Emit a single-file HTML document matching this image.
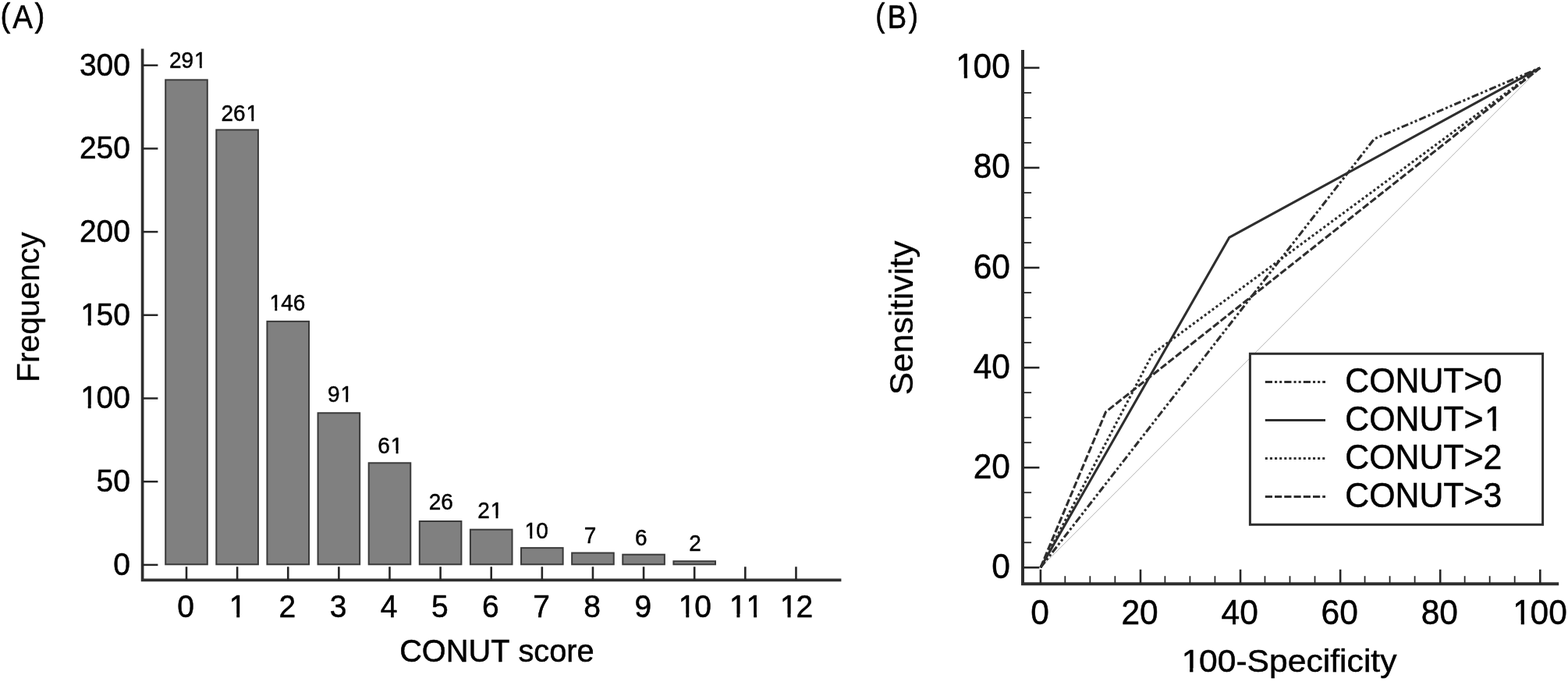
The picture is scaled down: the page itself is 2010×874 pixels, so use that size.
<!DOCTYPE html>
<html lang="en">
<head>
<meta charset="utf-8">
<title>CONUT score distribution and ROC curves</title>
<style>
html,body{margin:0;padding:0;background:#fff;}
body{width:2010px;height:874px;overflow:hidden;}
svg{display:block;}
text{font-family:"Liberation Sans", Arial, sans-serif;fill:#000;stroke:#000;stroke-linejoin:round;font-kerning:none;}
.m{fill:#fff;stroke:none;}
</style>
</head>
<body>
<svg width="2010" height="874" viewBox="0 0 2010 874">
<rect x="0" y="0" width="2010" height="874" fill="#ffffff"/>

<g id="panelA">
<text transform="scale(0.9614,1.0756)" font-size="40" stroke-width="0.6" x="0.49 16.88 46.21" y="32.01 33.28 32.01">(A)</text>
<g fill="#808080" stroke="#3a3a3a" stroke-width="2">
<rect x="212.2" y="102.36" width="53.6" height="620.94"/>
<rect x="277.32" y="166.4" width="53.6" height="556.9"/>
<rect x="342.44" y="411.86" width="53.6" height="311.44"/>
<rect x="407.56" y="529.26" width="53.6" height="194.04"/>
<rect x="472.68" y="593.3" width="53.6" height="130"/>
<rect x="537.8" y="668" width="53.6" height="55.3"/>
<rect x="602.92" y="678.68" width="53.6" height="44.62"/>
<rect x="668.04" y="702.15" width="53.6" height="21.14"/>
<rect x="733.16" y="708.56" width="53.6" height="14.74"/>
<rect x="798.28" y="710.69" width="53.6" height="12.61"/>
<rect x="863.4" y="719.23" width="53.6" height="4.07"/>
</g>
<text transform="translate(217.01,86.89) scale(1.0000,1.0350)" font-size="28" stroke-width="0.45" x="0 15.57 32.05">291</text>
<rect class="m" x="249.67" y="83.19" width="6.21" height="5.33"/><rect class="m" x="258.8" y="83.19" width="5.99" height="5.33"/>
<text transform="translate(283.51,155.19) scale(1.0000,1.0350)" font-size="28" stroke-width="0.45" x="0 15.57 32.05">261</text>
<rect class="m" x="316.17" y="151.49" width="6.21" height="5.33"/><rect class="m" x="325.3" y="151.49" width="5.99" height="5.33"/>
<text transform="translate(344.61,397.69) scale(1.0000,1.0350)" font-size="28" stroke-width="0.45" x="0.9 15.57 31.14">146</text>
<rect class="m" x="346.12" y="393.99" width="6.21" height="5.33"/><rect class="m" x="355.25" y="393.99" width="5.99" height="5.33"/>
<text transform="translate(419.95,515.19) scale(1.0000,1.0350)" font-size="28" stroke-width="0.45" x="0 16.47">91</text>
<rect class="m" x="437.03" y="511.49" width="6.21" height="5.33"/><rect class="m" x="446.16" y="511.49" width="5.99" height="5.33"/>
<text transform="translate(484.34,580.69) scale(1.0000,1.0350)" font-size="28" stroke-width="0.45" x="0 16.47">61</text>
<rect class="m" x="501.43" y="576.99" width="6.21" height="5.33"/><rect class="m" x="510.56" y="576.99" width="5.99" height="5.33"/>
<text transform="translate(549.74,653.49) scale(1.0000,1.0350)" font-size="28" stroke-width="0.45">26</text>
<text transform="translate(612.25,664.27) scale(1.0000,1.0350)" font-size="28" stroke-width="0.45" x="0 16.47">21</text>
<rect class="m" x="629.33" y="660.58" width="6.21" height="5.33"/><rect class="m" x="638.47" y="660.58" width="5.99" height="5.33"/>
<text transform="translate(671.63,690.29) scale(1.0000,1.0350)" font-size="28" stroke-width="0.45" x="0.9 15.57">10</text>
<rect class="m" x="673.14" y="686.59" width="6.21" height="5.33"/><rect class="m" x="682.27" y="686.59" width="5.99" height="5.33"/>
<text transform="translate(748.85,696.17) scale(1.0000,1.0350)" font-size="28" stroke-width="0.45">7</text>
<text transform="translate(813.92,698.79) scale(1.0000,1.0350)" font-size="28" stroke-width="0.45">6</text>
<text transform="translate(883.26,705.67) scale(1.0000,1.0350)" font-size="28" stroke-width="0.45">2</text>
<path d="M182.6 62.6V743.4H1078.4" fill="none" stroke="#2e2e2e" stroke-width="3.7" stroke-linejoin="miter"/>
<line x1="182.6" y1="723.9" x2="202.4" y2="723.9" stroke="#262626" stroke-width="2.5"/>
<text transform="translate(145.31,736.7) scale(1.0000,1.0400)" font-size="39" stroke-width="0.5">0</text>
<line x1="182.6" y1="617.2" x2="202.4" y2="617.2" stroke="#262626" stroke-width="2.5"/>
<text transform="translate(123.62,630) scale(1.0000,1.0400)" font-size="39" stroke-width="0.5">50</text>
<line x1="182.6" y1="510.5" x2="202.4" y2="510.5" stroke="#262626" stroke-width="2.5"/>
<text transform="translate(101.93,523.3) scale(1.0000,1.0400)" font-size="39" stroke-width="0.5" x="1.26 21.69 43.38">100</text>
<rect class="m" x="104.61" y="518.71" width="8.14" height="6.25"/><rect class="m" x="116.69" y="518.71" width="7.83" height="6.25"/>
<line x1="182.6" y1="403.8" x2="202.4" y2="403.8" stroke="#262626" stroke-width="2.5"/>
<text transform="translate(101.93,416.6) scale(1.0000,1.0400)" font-size="39" stroke-width="0.5" x="1.26 21.69 43.38">150</text>
<rect class="m" x="104.61" y="412.01" width="8.14" height="6.25"/><rect class="m" x="116.69" y="412.01" width="7.83" height="6.25"/>
<line x1="182.6" y1="297.1" x2="202.4" y2="297.1" stroke="#262626" stroke-width="2.5"/>
<text transform="translate(101.93,309.9) scale(1.0000,1.0400)" font-size="39" stroke-width="0.5">200</text>
<line x1="182.6" y1="190.4" x2="202.4" y2="190.4" stroke="#262626" stroke-width="2.5"/>
<text transform="translate(101.93,203.2) scale(1.0000,1.0400)" font-size="39" stroke-width="0.5">250</text>
<line x1="182.6" y1="83.7" x2="202.4" y2="83.7" stroke="#262626" stroke-width="2.5"/>
<text transform="translate(101.93,96.5) scale(1.0000,1.0400)" font-size="39" stroke-width="0.5">300</text>
<line x1="239" y1="726.3" x2="239" y2="743.4" stroke="#262626" stroke-width="2.6"/>
<text transform="translate(227.36,791.3) scale(1.0000,1.0400)" font-size="39" stroke-width="0.5">0</text>
<line x1="304.12" y1="726.3" x2="304.12" y2="743.4" stroke="#262626" stroke-width="2.6"/>
<text transform="translate(292.48,791.3) scale(1.0000,1.0400)" font-size="39" stroke-width="0.5" x="1.26">1</text>
<rect class="m" x="295.15" y="786.71" width="8.14" height="6.25"/><rect class="m" x="307.24" y="786.71" width="7.83" height="6.25"/>
<line x1="369.24" y1="726.3" x2="369.24" y2="743.4" stroke="#262626" stroke-width="2.6"/>
<text transform="translate(357.6,791.3) scale(1.0000,1.0400)" font-size="39" stroke-width="0.5">2</text>
<line x1="434.36" y1="726.3" x2="434.36" y2="743.4" stroke="#262626" stroke-width="2.6"/>
<text transform="translate(422.72,791.3) scale(1.0000,1.0400)" font-size="39" stroke-width="0.5">3</text>
<line x1="499.48" y1="726.3" x2="499.48" y2="743.4" stroke="#262626" stroke-width="2.6"/>
<text transform="translate(487.84,791.3) scale(1.0000,1.0400)" font-size="39" stroke-width="0.5">4</text>
<line x1="564.6" y1="726.3" x2="564.6" y2="743.4" stroke="#262626" stroke-width="2.6"/>
<text transform="translate(552.96,791.3) scale(1.0000,1.0400)" font-size="39" stroke-width="0.5">5</text>
<line x1="629.72" y1="726.3" x2="629.72" y2="743.4" stroke="#262626" stroke-width="2.6"/>
<text transform="translate(618.08,791.3) scale(1.0000,1.0400)" font-size="39" stroke-width="0.5">6</text>
<line x1="694.84" y1="726.3" x2="694.84" y2="743.4" stroke="#262626" stroke-width="2.6"/>
<text transform="translate(683.2,791.3) scale(1.0000,1.0400)" font-size="39" stroke-width="0.5">7</text>
<line x1="759.96" y1="726.3" x2="759.96" y2="743.4" stroke="#262626" stroke-width="2.6"/>
<text transform="translate(748.32,791.3) scale(1.0000,1.0400)" font-size="39" stroke-width="0.5">8</text>
<line x1="825.08" y1="726.3" x2="825.08" y2="743.4" stroke="#262626" stroke-width="2.6"/>
<text transform="translate(813.44,791.3) scale(1.0000,1.0400)" font-size="39" stroke-width="0.5">9</text>
<line x1="890.2" y1="726.3" x2="890.2" y2="743.4" stroke="#262626" stroke-width="2.6"/>
<text transform="translate(868.51,791.3) scale(1.0000,1.0400)" font-size="39" stroke-width="0.5" x="1.26 21.69">10</text>
<rect class="m" x="871.19" y="786.71" width="8.14" height="6.25"/><rect class="m" x="883.27" y="786.71" width="7.83" height="6.25"/>
<line x1="955.32" y1="726.3" x2="955.32" y2="743.4" stroke="#262626" stroke-width="2.6"/>
<text transform="translate(933.63,791.3) scale(1.0000,1.0400)" font-size="39" stroke-width="0.5" x="1.26 22.95">11</text>
<rect class="m" x="936.31" y="786.71" width="8.14" height="6.25"/><rect class="m" x="948.39" y="786.71" width="7.83" height="6.25"/>
<rect class="m" x="958" y="786.71" width="8.14" height="6.25"/><rect class="m" x="970.08" y="786.71" width="7.83" height="6.25"/>
<line x1="1020.44" y1="726.3" x2="1020.44" y2="743.4" stroke="#262626" stroke-width="2.6"/>
<text transform="translate(998.75,791.3) scale(1.0000,1.0400)" font-size="39" stroke-width="0.5" x="1.26 21.69">12</text>
<rect class="m" x="1001.43" y="786.71" width="8.14" height="6.25"/><rect class="m" x="1013.51" y="786.71" width="7.83" height="6.25"/>
<text transform="translate(512.13,848.25) scale(0.9938,1.0300)" font-size="40" stroke-width="0.5">CONUT score</text>
<text transform="translate(50,490) rotate(-90) scale(1.0198,1.0200)" font-size="40" stroke-width="0.3">Frequency</text>
</g>
<g id="panelB">
<text transform="scale(0.9113,1.0756)" font-size="40" stroke-width="0.6" x="1231.37 1248.38 1278.01" y="32.01 33.28 32.01">(B)</text>
<line x1="1333.9" y1="727.3" x2="1974.3" y2="86.9" stroke="#b4b4b4" stroke-width="1"/>
<polyline points="1333.9,727.3 1761.6,178 1974.3,86.9" fill="none" stroke="#2e2e2e" stroke-width="3.1" stroke-linejoin="round" stroke-dasharray="9.18 3.06 3.06 3.06 3.06 3.06"/>
<polyline points="1333.9,727.3 1575.7,304.4 1974.3,86.9" fill="none" stroke="#2e2e2e" stroke-width="3.1" stroke-linejoin="round"/>
<polyline points="1333.9,727.3 1477.4,453.6 1974.3,86.9" fill="none" stroke="#2e2e2e" stroke-width="3.1" stroke-linejoin="round" stroke-dasharray="3.06 3.06"/>
<polyline points="1333.9,727.3 1417.5,527.9 1974.3,86.9" fill="none" stroke="#2e2e2e" stroke-width="3.1" stroke-linejoin="round" stroke-dasharray="9.18 3.06"/>
<path d="M1311 64.1V748.2H1998.2" fill="none" stroke="#2e2e2e" stroke-width="4" stroke-linejoin="miter"/>
<line x1="1311" y1="727.3" x2="1332.4" y2="727.3" stroke="#262626" stroke-width="2.6"/>
<line x1="1333.9" y1="729.8" x2="1333.9" y2="748.2" stroke="#262626" stroke-width="2.6"/>
<text transform="translate(1271.26,740.8) scale(1.0000,1.0400)" font-size="42.5" stroke-width="0.5">0</text>
<text transform="translate(1321.18,800.3) scale(1.0000,1.0400)" font-size="42.5" stroke-width="0.5">0</text>
<line x1="1311" y1="695.28" x2="1322.1" y2="695.28" stroke="#262626" stroke-width="1.8"/>
<line x1="1365.32" y1="738.2" x2="1365.32" y2="748.2" stroke="#262626" stroke-width="1.8"/>
<line x1="1311" y1="663.26" x2="1322.1" y2="663.26" stroke="#262626" stroke-width="1.8"/>
<line x1="1397.34" y1="738.2" x2="1397.34" y2="748.2" stroke="#262626" stroke-width="1.8"/>
<line x1="1311" y1="631.24" x2="1322.1" y2="631.24" stroke="#262626" stroke-width="1.8"/>
<line x1="1429.36" y1="738.2" x2="1429.36" y2="748.2" stroke="#262626" stroke-width="1.8"/>
<line x1="1311" y1="599.22" x2="1332.4" y2="599.22" stroke="#262626" stroke-width="2.6"/>
<line x1="1461.98" y1="729.8" x2="1461.98" y2="748.2" stroke="#262626" stroke-width="2.6"/>
<text transform="translate(1247.63,612.72) scale(1.0000,1.0400)" font-size="42.5" stroke-width="0.5">20</text>
<text transform="translate(1437.44,800.3) scale(1.0000,1.0400)" font-size="42.5" stroke-width="0.5">20</text>
<line x1="1311" y1="567.2" x2="1322.1" y2="567.2" stroke="#262626" stroke-width="1.8"/>
<line x1="1493.4" y1="738.2" x2="1493.4" y2="748.2" stroke="#262626" stroke-width="1.8"/>
<line x1="1311" y1="535.18" x2="1322.1" y2="535.18" stroke="#262626" stroke-width="1.8"/>
<line x1="1525.42" y1="738.2" x2="1525.42" y2="748.2" stroke="#262626" stroke-width="1.8"/>
<line x1="1311" y1="503.16" x2="1322.1" y2="503.16" stroke="#262626" stroke-width="1.8"/>
<line x1="1557.44" y1="738.2" x2="1557.44" y2="748.2" stroke="#262626" stroke-width="1.8"/>
<line x1="1311" y1="471.14" x2="1332.4" y2="471.14" stroke="#262626" stroke-width="2.6"/>
<line x1="1590.06" y1="729.8" x2="1590.06" y2="748.2" stroke="#262626" stroke-width="2.6"/>
<text transform="translate(1247.63,484.64) scale(1.0000,1.0400)" font-size="42.5" stroke-width="0.5">40</text>
<text transform="translate(1565.52,800.3) scale(1.0000,1.0400)" font-size="42.5" stroke-width="0.5">40</text>
<line x1="1311" y1="439.12" x2="1322.1" y2="439.12" stroke="#262626" stroke-width="1.8"/>
<line x1="1621.48" y1="738.2" x2="1621.48" y2="748.2" stroke="#262626" stroke-width="1.8"/>
<line x1="1311" y1="407.1" x2="1322.1" y2="407.1" stroke="#262626" stroke-width="1.8"/>
<line x1="1653.5" y1="738.2" x2="1653.5" y2="748.2" stroke="#262626" stroke-width="1.8"/>
<line x1="1311" y1="375.08" x2="1322.1" y2="375.08" stroke="#262626" stroke-width="1.8"/>
<line x1="1685.52" y1="738.2" x2="1685.52" y2="748.2" stroke="#262626" stroke-width="1.8"/>
<line x1="1311" y1="343.06" x2="1332.4" y2="343.06" stroke="#262626" stroke-width="2.6"/>
<line x1="1718.14" y1="729.8" x2="1718.14" y2="748.2" stroke="#262626" stroke-width="2.6"/>
<text transform="translate(1247.63,356.56) scale(1.0000,1.0400)" font-size="42.5" stroke-width="0.5">60</text>
<text transform="translate(1693.6,800.3) scale(1.0000,1.0400)" font-size="42.5" stroke-width="0.5">60</text>
<line x1="1311" y1="311.04" x2="1322.1" y2="311.04" stroke="#262626" stroke-width="1.8"/>
<line x1="1749.56" y1="738.2" x2="1749.56" y2="748.2" stroke="#262626" stroke-width="1.8"/>
<line x1="1311" y1="279.02" x2="1322.1" y2="279.02" stroke="#262626" stroke-width="1.8"/>
<line x1="1781.58" y1="738.2" x2="1781.58" y2="748.2" stroke="#262626" stroke-width="1.8"/>
<line x1="1311" y1="247" x2="1322.1" y2="247" stroke="#262626" stroke-width="1.8"/>
<line x1="1813.6" y1="738.2" x2="1813.6" y2="748.2" stroke="#262626" stroke-width="1.8"/>
<line x1="1311" y1="214.98" x2="1332.4" y2="214.98" stroke="#262626" stroke-width="2.6"/>
<line x1="1846.22" y1="729.8" x2="1846.22" y2="748.2" stroke="#262626" stroke-width="2.6"/>
<text transform="translate(1247.63,228.48) scale(1.0000,1.0400)" font-size="42.5" stroke-width="0.5">80</text>
<text transform="translate(1821.68,800.3) scale(1.0000,1.0400)" font-size="42.5" stroke-width="0.5">80</text>
<line x1="1311" y1="182.96" x2="1322.1" y2="182.96" stroke="#262626" stroke-width="1.8"/>
<line x1="1877.64" y1="738.2" x2="1877.64" y2="748.2" stroke="#262626" stroke-width="1.8"/>
<line x1="1311" y1="150.94" x2="1322.1" y2="150.94" stroke="#262626" stroke-width="1.8"/>
<line x1="1909.66" y1="738.2" x2="1909.66" y2="748.2" stroke="#262626" stroke-width="1.8"/>
<line x1="1311" y1="118.92" x2="1322.1" y2="118.92" stroke="#262626" stroke-width="1.8"/>
<line x1="1941.68" y1="738.2" x2="1941.68" y2="748.2" stroke="#262626" stroke-width="1.8"/>
<line x1="1311" y1="86.9" x2="1332.4" y2="86.9" stroke="#262626" stroke-width="2.6"/>
<line x1="1974.3" y1="729.8" x2="1974.3" y2="748.2" stroke="#262626" stroke-width="2.6"/>
<text transform="translate(1223.99,100.4) scale(1.0000,1.0400)" font-size="42.5" stroke-width="0.5" x="1.37 23.64 47.27">100</text>
<rect class="m" x="1227.05" y="95.54" width="8.75" height="6.52"/><rect class="m" x="1240.05" y="95.54" width="8.42" height="6.52"/>
<text transform="translate(1937.95,800.3) scale(1.0000,1.0400)" font-size="42.5" stroke-width="0.5" x="1.37 23.64 47.27">100</text>
<rect class="m" x="1941" y="795.44" width="8.75" height="6.52"/><rect class="m" x="1954.01" y="795.44" width="8.42" height="6.52"/>
<text transform="translate(1513.27,861.07) scale(1.0659,1.0100)" font-size="40" stroke-width="0.5" x="1.29 22.25 44.49 66.74 80.06 106.74 128.98 151.23 171.23 180.12 191.23 200.12 220.12 229 240.12">100-Specificity</text>
<rect class="m" x="1516.35" y="856.5" width="8.77" height="6.22"/><rect class="m" x="1529.39" y="856.5" width="8.44" height="6.22"/>
<text transform="translate(1170,506.24) rotate(-90) scale(1.0333,1.0200)" font-size="42.5" stroke-width="0.3">Sensitivity</text>
<rect x="1602.4" y="453.3" width="375.2" height="219" fill="#ffffff" stroke="#2e2e2e" stroke-width="3"/>
<line x1="1621.8" y1="489.5" x2="1699" y2="489.5" stroke="#2e2e2e" stroke-width="3.1" stroke-dasharray="9.18 3.06 3.06 3.06 3.06 3.06"/>
<text transform="translate(1724.2,503.3) scale(1.0000,1.0400)" font-size="42.85" stroke-width="0.5">CONUT&gt;0</text>
<line x1="1621.8" y1="538.5" x2="1699" y2="538.5" stroke="#2e2e2e" stroke-width="3.1"/>
<text transform="translate(1724.2,552.3) scale(1.0000,1.0400)" font-size="42.85" stroke-width="0.5" x="0 30.94 64.28 95.22 126.16 152.34 178.74">CONUT&gt;1</text>
<rect class="m" x="1904.66" y="547.41" width="8.81" height="6.55"/><rect class="m" x="1917.76" y="547.41" width="8.48" height="6.55"/>
<line x1="1621.8" y1="587.5" x2="1699" y2="587.5" stroke="#2e2e2e" stroke-width="3.1" stroke-dasharray="3.06 3.06"/>
<text transform="translate(1724.2,601.3) scale(1.0000,1.0400)" font-size="42.85" stroke-width="0.5">CONUT&gt;2</text>
<line x1="1621.8" y1="636.5" x2="1699" y2="636.5" stroke="#2e2e2e" stroke-width="3.1" stroke-dasharray="9.18 3.06"/>
<text transform="translate(1724.2,650.3) scale(1.0000,1.0400)" font-size="42.85" stroke-width="0.5">CONUT&gt;3</text>
</g>
</svg>
</body>
</html>
